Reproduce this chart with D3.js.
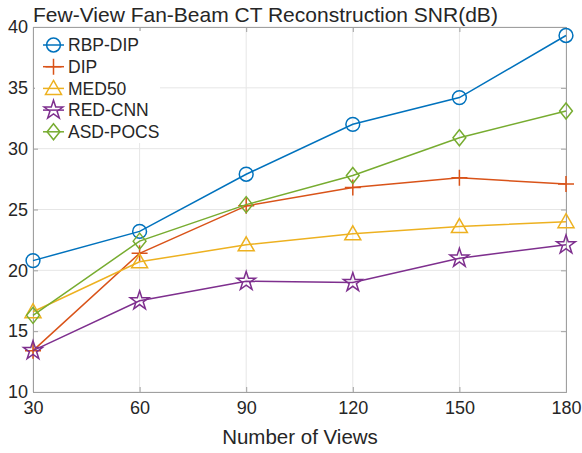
<!DOCTYPE html>
<html lang="en">
<head>
<meta charset="utf-8">
<script src="https://cdn.jsdelivr.net/npm/d3@7"></script>
<style>
  body { margin: 0; background: #fff; }
  svg text { font-family: "Liberation Sans", Arial, sans-serif; fill: #262626; }
</style>
</head>
<body>
<svg id="chart"></svg>
<script>
// views on the x axis
const views = [30, 60, 90, 120, 150, 180];
const yTicks = [10, 15, 20, 25, 30, 35, 40];

// SNR values
const rbpDip  = [20.8, 23.2, 27.9, 32.0, 34.2, 39.3];
const dip     = [13.4, 21.4, 25.3, 26.8, 27.6, 27.1];
const med50   = [16.6, 20.7, 22.1, 23.0, 23.6, 24.0];
const redCnn  = [13.4, 17.5, 19.1, 19.0, 21.0, 22.1];
const asdPocs = [16.3, 22.4, 25.4, 27.8, 30.9, 33.1];

const seriesNames = ["RBP-DIP", "DIP", "MED50", "RED-CNN", "ASD-POCS"];
const seriesValues = [rbpDip, dip, med50, redCnn, asdPocs];
const colors = ["#0072BD", "#D95319", "#EDB120", "#7E2F8E", "#77AC30"];
const symbols = ["circle", "plus", "triangle", "star", "diamond"];

const W = 582, H = 453;
const m = { left: 33, right: 16, top: 27, bottom: 61 };

const svg = d3.select("#chart").attr("width", W).attr("height", H);

const x = d3.scaleLinear().domain([30, 180]).range([m.left, W - m.right]);
const y = d3.scaleLinear().domain([10, 40]).range([H - m.bottom, m.top]);

// grid
const grid = svg.append("g");
grid.selectAll(".vg").data(views).enter().append("line")
  .attr("x1", d => x(d)).attr("x2", d => x(d))
  .attr("y1", y(10)).attr("y2", y(40))
  .attr("stroke", "#e6e6e6").attr("stroke-width", 1);
grid.selectAll(".hg").data(yTicks).enter().append("line")
  .attr("y1", d => y(d)).attr("y2", d => y(d))
  .attr("x1", x(30)).attr("x2", x(180))
  .attr("stroke", "#e6e6e6").attr("stroke-width", 1);

// axes (box with ticks on every side, like matlab)
const xAxis = svg.append("g").attr("transform", `translate(0,${y(10)})`)
  .call(d3.axisBottom(x).tickValues(views).tickSize(-5).tickPadding(9));
const yAxis = svg.append("g").attr("transform", `translate(${x(30)},0)`)
  .call(d3.axisLeft(y).tickValues(yTicks).tickSize(-5).tickPadding(5));
svg.append("g").attr("transform", `translate(0,${y(40)})`)
  .call(d3.axisTop(x).tickValues(views).tickSize(-5).tickFormat(""));
svg.append("g").attr("transform", `translate(${x(180)},0)`)
  .call(d3.axisRight(y).tickValues(yTicks).tickSize(-5).tickFormat(""));

svg.selectAll(".domain, .tick line").attr("stroke", "#a0a0a0");
xAxis.selectAll("text").style("font-size", "18px");
yAxis.selectAll("text").style("font-size", "18px");

// lines + markers
const line = d3.line().x((d, i) => x(views[i])).y(d => y(d));

function markerPath(sym, size) {
  const s = size;
  if (sym === "plus") return `M${-s},0L${s},0M0,${-s}L0,${s}`;
  if (sym === "triangle") return `M0,${-s}L${s},${s * 0.75}L${-s},${s * 0.75}Z`;
  if (sym === "diamond") return `M0,${-s}L${s * 0.8},0L0,${s}L${-s * 0.8},0Z`;
  if (sym === "star") return d3.symbol(d3.symbolStar, 110)();
  return d3.symbol(d3.symbolCircle, 150)();
}

// legend sits behind the data, white box hides the grid
const lg = svg.append("g").attr("transform", "translate(43,45)");
lg.append("rect").attr("x", -8).attr("y", -14).attr("width", 125).attr("height", 112)
  .attr("fill", "#fff");

seriesValues.forEach((vals, k) => {
  svg.append("path").datum(vals)
    .attr("d", line)
    .attr("fill", "none")
    .attr("stroke", colors[k])
    .attr("stroke-width", 1.5);
  svg.append("g").selectAll("path").data(vals).enter().append("path")
    .attr("transform", (d, i) => `translate(${x(views[i])},${y(d)})`)
    .attr("d", markerPath(symbols[k], 8))
    .attr("fill", "none")
    .attr("stroke", colors[k])
    .attr("stroke-width", 1.5);
});

seriesNames.forEach((name, k) => {
  const row = lg.append("g").attr("transform", `translate(0,${k * 21.7})`);
  row.append("line").attr("x1", 0).attr("x2", 21)
    .attr("stroke", colors[k]).attr("stroke-width", 1.5);
  row.append("path").attr("transform", "translate(10.5,0)")
    .attr("d", markerPath(symbols[k], 8))
    .attr("fill", "none").attr("stroke", colors[k]).attr("stroke-width", 1.5);
  row.append("text").attr("x", 25).attr("dy", "0.36em")
    .style("font-size", "17.5px").text(name);
});

// title and labels
svg.append("text").attr("x", 33).attr("y", 22)
  .style("font-size", "21px").text("Few-View Fan-Beam CT Reconstruction SNR(dB)");
svg.append("text").attr("x", 300).attr("y", 444)
  .attr("text-anchor", "middle").style("font-size", "20.5px").text("Number of Views");
svg.append("text").attr("x", 286).attr("y", 466)
  .attr("text-anchor", "middle").style("font-size", "18px").text("(b)");
</script>
</body>
</html>
